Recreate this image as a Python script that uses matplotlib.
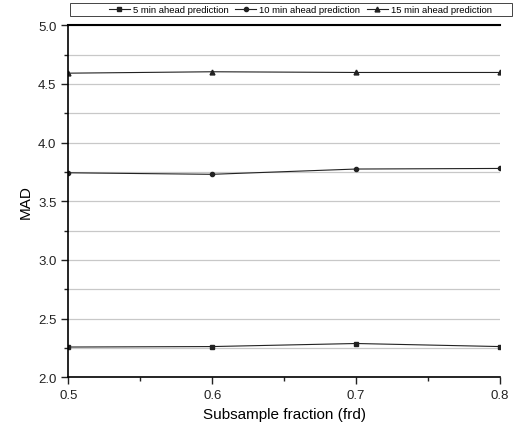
import matplotlib
matplotlib.use("Agg")
import matplotlib.pyplot as plt
from matplotlib.patches import Rectangle
from matplotlib.ticker import MultipleLocator

plt.rcParams['font.family'] = ['Liberation Sans', 'DejaVu Sans']

frd = [0.5, 0.6, 0.7, 0.8]
mad_5min = [2.258, 2.262, 2.288, 2.262]
mad_10min = [3.743, 3.730, 3.775, 3.780]
mad_15min = [4.592, 4.604, 4.598, 4.598]
labels = ['5 min ahead prediction', '10 min ahead prediction', '15 min ahead prediction']

fig = plt.figure(figsize=(5.15, 4.35), dpi=100)
ax = fig.add_axes([68.3 / 515, 1 - 378.3 / 435, (500 - 68.3) / 515, (378.3 - 26.3) / 435])

ax.plot(frd, mad_5min, color='#222222', lw=0.8, marker='s', ms=3, label=labels[0])
ax.plot(frd, mad_10min, color='#222222', lw=0.8, marker='o', ms=3, label=labels[1])
ax.plot(frd, mad_15min, color='#222222', lw=0.8, marker='^', ms=3.5, label=labels[2])

ax.set_xlim(0.5, 0.8)
ax.set_ylim(2.0, 5.0)
ax.set_xticks(frd)
ax.set_xticklabels(['0.5', '0.6', '0.7', '0.8'])
ax.xaxis.set_minor_locator(MultipleLocator(0.05))
ax.yaxis.set_major_locator(MultipleLocator(0.5))
ax.yaxis.set_minor_locator(MultipleLocator(0.25))

ax.grid(True, which='both', axis='y', color='#c8c8c8', lw=0.9)
ax.set_axisbelow(True)
ax.spines['right'].set_visible(False)
ax.spines['top'].set_linewidth(1.5)
ax.spines['left'].set_linewidth(1.2)
ax.spines['bottom'].set_linewidth(1.2)
ax.tick_params(which='major', direction='out', length=5, width=1.0, labelsize=9.5, colors='#222222')
ax.tick_params(which='minor', direction='out', length=3, width=1.0, colors='#222222')

ax.set_xlabel('Subsample fraction (frd)', fontsize=11)
ax.set_ylabel('MAD', fontsize=11)

# legend box spanning the top, entries pushed to the right
fig.patches.append(Rectangle((70 / 515, 1 - 17 / 435), (512 - 70) / 515, 13 / 435,
                             transform=fig.transFigure, fill=False, edgecolor='#444444', lw=0.7))
leg = fig.legend(loc='center right', bbox_to_anchor=(492 / 515, 1 - 10.5 / 435),
                 ncol=3, fontsize=6.8, frameon=False, borderpad=0.0, borderaxespad=0.0,
                 handlelength=2.2, handletextpad=0.35, columnspacing=0.7)

fig.savefig('out.png', dpi=100)
